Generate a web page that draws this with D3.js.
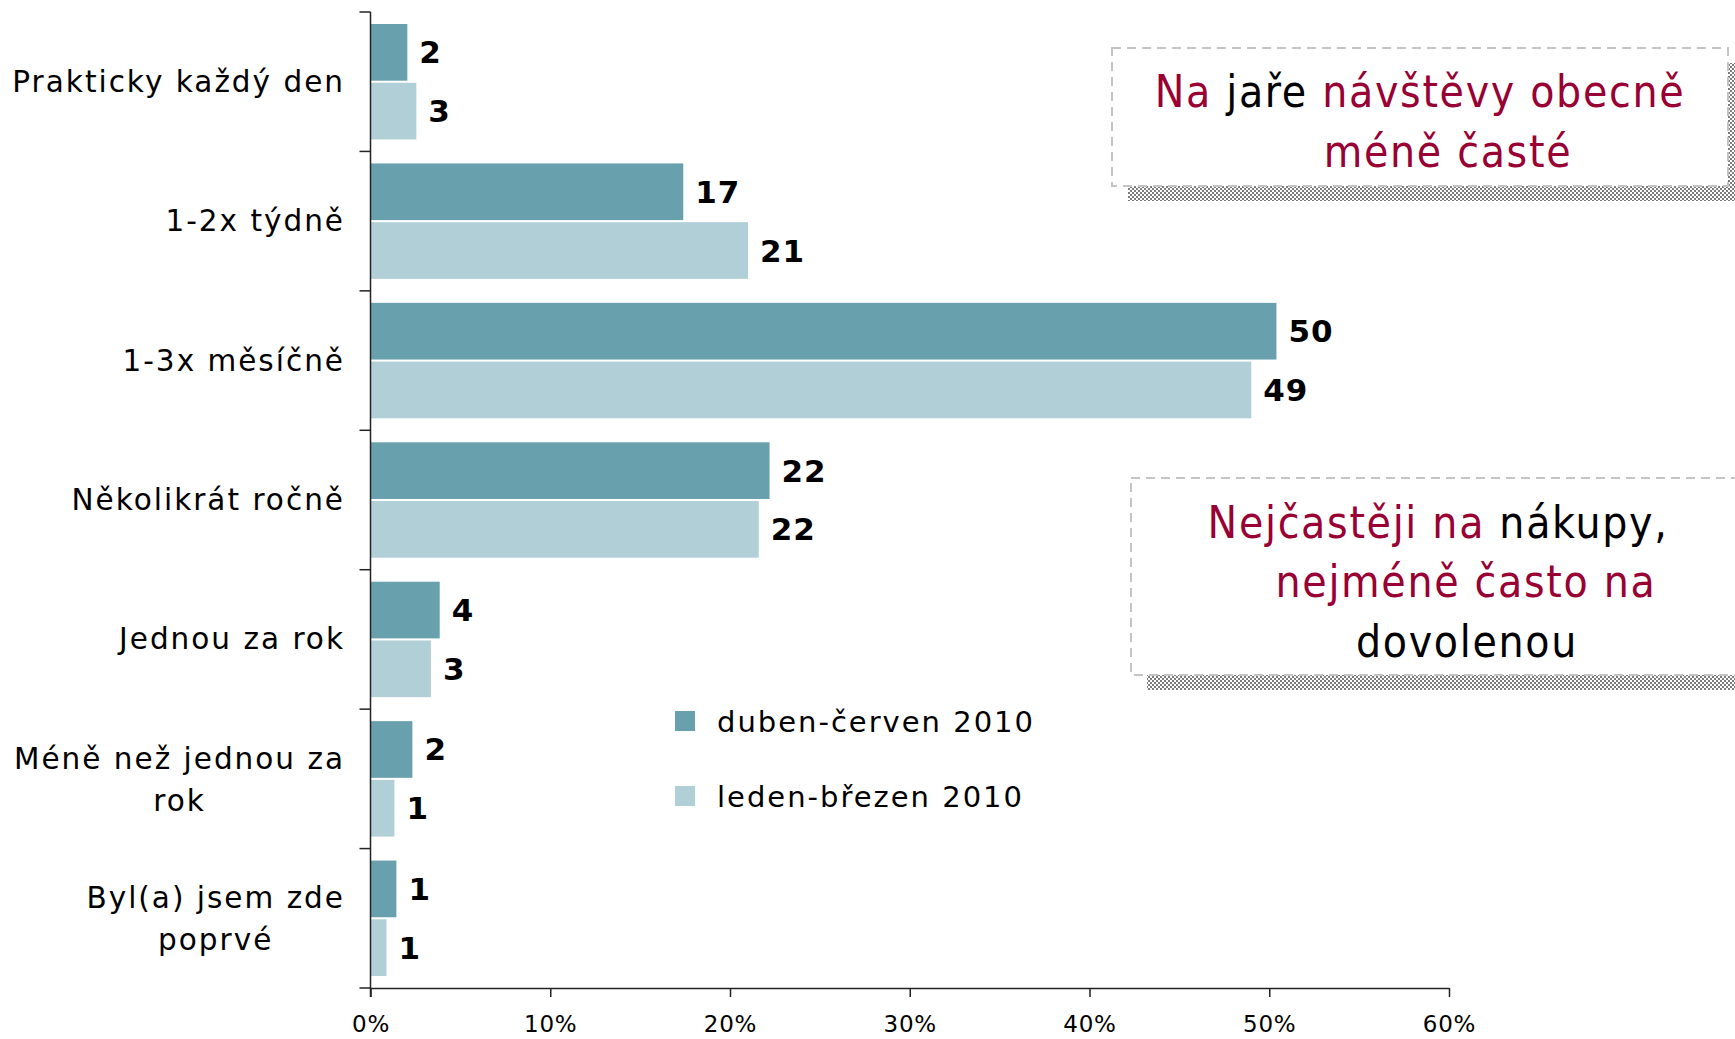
<!DOCTYPE html>
<html>
<head>
<meta charset="utf-8">
<script src="https://cdn.jsdelivr.net/npm/d3@7"></script>
<style>
  html, body { margin: 0; padding: 0; background: #fff; }
  svg { display: block; }
</style>
</head>
<body>
<div id="chart"></div>
<script>
// visit frequency, two survey periods (percent)
const categories = [
    ["Prakticky každý den"],
    ["1-2x týdně"],
    ["1-3x měsíčně"],
    ["Několikrát ročně"],
    ["Jednou za rok"],
    ["Méně než jednou za", "rok"],
    ["Byl(a) jsem zde", "poprvé"]
];
const seriesNames = ["duben-červen 2010", "leden-březen 2010"];
const aprJun = [2.05, 17.4, 50.4, 22.2, 3.85, 2.33, 1.44];
const janMar = [2.55, 21.0, 49.0, 21.6, 3.36, 1.33, 0.89];
const xTicks = [0, 10, 20, 30, 40, 50, 60];

// callout texts: [text, highlighted?]
const note1 = [
    [["Na ", true], ["jaře ", false], ["návštěvy obecně", true]],
    [["méně časté", true]]
];
const note2 = [
    [["Nejčastěji na ", true], ["nákupy,", false]],
    [["nejméně často na", true]],
    [["dovolenou", false]]
];

const W = 1735, H = 1039;
const colors = ["#68a0ae", "#b0cfd6"];
const red = "#990033";
const labelFont = "'DejaVu Sans', Verdana, sans-serif";
const noteFont = "'DejaVu Sans Condensed', 'DejaVu Sans', sans-serif";

const svg = d3.select("#chart").append("svg")
    .attr("width", W).attr("height", H)
    .attr("viewBox", `0 0 ${W} ${H}`);

const keys = categories.map(c => c.join(" "));
const rows = keys.map((k, i) => ({ key: k, lines: categories[i], values: [aprJun[i], janMar[i]] }));

const x = d3.scaleLinear().domain([0, 60]).range([370.5, 1449]);
const y = d3.scaleBand().domain(keys).range([12, 988]);
const ySub = d3.scaleBand().domain(seriesNames).range([12, y.bandwidth() - 12]).paddingInner(0.035);

// hatched shadow pattern
const pat = svg.append("defs").append("pattern")
    .attr("id", "checker").attr("width", 4).attr("height", 4)
    .attr("patternUnits", "userSpaceOnUse");
pat.append("rect").attr("width", 4).attr("height", 4).attr("fill", "#fff");
pat.append("rect").attr("width", 2).attr("height", 2).attr("fill", "#7c7c7c");
pat.append("rect").attr("x", 2).attr("y", 2).attr("width", 2).attr("height", 2).attr("fill", "#7c7c7c");

// bars
const groups = svg.selectAll(".grp").data(rows).enter().append("g")
    .attr("class", "grp")
    .attr("transform", d => `translate(0,${y(d.key)})`);

groups.selectAll("rect")
    .data(d => d.values.map((v, i) => ({ s: seriesNames[i], v, i })))
    .enter().append("rect")
    .attr("x", x(0))
    .attr("y", d => ySub(d.s))
    .attr("width", d => x(d.v) - x(0))
    .attr("height", ySub.bandwidth())
    .attr("fill", d => colors[d.i]);

groups.selectAll(".val")
    .data(d => d.values.map((v, i) => ({ s: seriesNames[i], v, i })))
    .enter().append("text")
    .attr("class", "val")
    .attr("x", d => x(d.v) + 12)
    .attr("y", d => ySub(d.s) + ySub.bandwidth() / 2 + 11)
    .attr("font-family", labelFont)
    .attr("font-weight", "bold")
    .attr("font-size", 31)
    .attr("letter-spacing", 1)
    .attr("fill", "#000")
    .text(d => d3.format(".0f")(d.v));

// category labels, multi-line ones centred on their own block
const labelRight = 345;
groups.each(function(d) {
    const g = d3.select(this);
    const mid = y.bandwidth() / 2;
    const t = g.append("text")
        .attr("font-family", labelFont)
        .attr("font-size", 29.5)
        .attr("letter-spacing", 2)
        .attr("fill", "#000");
    if (d.lines.length === 1) {
        t.attr("text-anchor", "end").attr("x", labelRight).attr("y", mid + 10).text(d.lines[0]);
    } else {
        t.text(d.lines[0]);
        const w = t.node().getComputedTextLength();
        const cx = labelRight - w / 2;
        t.text(null).attr("text-anchor", "middle");
        d.lines.forEach((ln, i) => {
            t.append("tspan").attr("x", cx).attr("y", mid - 10 + i * 42).text(ln);
        });
    }
});

// left axis: line plus ticks at band boundaries
const leftAxis = svg.append("g").attr("stroke", "#222").attr("stroke-width", 1.5);
leftAxis.append("line").attr("x1", x(0)).attr("x2", x(0)).attr("y1", y.range()[0]).attr("y2", y.range()[1] + 9);
leftAxis.selectAll(".tk")
    .data(keys.map(k => y(k)).concat([y.range()[1]]))
    .enter().append("line")
    .attr("x1", x(0) - 11).attr("x2", x(0))
    .attr("y1", d => d).attr("y2", d => d);

// bottom axis
svg.append("g")
    .attr("transform", `translate(0,${y.range()[1]})`)
    .call(d3.axisBottom(x).tickValues(xTicks).tickSize(9).tickSizeOuter(0).tickFormat(d => d + "%"))
    .call(g => g.select(".domain").attr("stroke", "#222").attr("stroke-width", 1.5))
    .call(g => g.selectAll(".tick line").attr("stroke", "#222").attr("stroke-width", 1.5))
    .call(g => g.selectAll(".tick text")
        .attr("y", 44).attr("dy", null)
        .attr("font-family", labelFont)
        .attr("font-size", 23)
        .attr("letter-spacing", 0.8)
        .attr("fill", "#000"));

// legend
const legend = svg.append("g").attr("transform", "translate(675,721)");
seriesNames.forEach((name, i) => {
    const item = legend.append("g").attr("transform", `translate(0,${i * 75})`);
    item.append("rect").attr("x", 0).attr("y", -10).attr("width", 20).attr("height", 20).attr("fill", colors[i]);
    item.append("text")
        .attr("x", 42).attr("y", 11)
        .attr("font-family", labelFont)
        .attr("font-size", 29)
        .attr("letter-spacing", 2)
        .attr("fill", "#000")
        .text(name);
});

// callout boxes
function callout(box, lines, centres, baselines) {
    const g = svg.append("g");
    g.append("rect")
        .attr("x", box.x + 16).attr("y", box.y + 15)
        .attr("width", box.w).attr("height", box.h)
        .attr("fill", "url(#checker)");
    g.append("rect")
        .attr("x", box.x).attr("y", box.y)
        .attr("width", box.w).attr("height", box.h)
        .attr("fill", "#fff")
        .attr("stroke", "#c4c4c4")
        .attr("stroke-width", 2)
        .attr("stroke-dasharray", "9,6");
    lines.forEach((segs, i) => {
        const t = g.append("text")
            .attr("x", centres[i]).attr("y", baselines[i])
            .attr("text-anchor", "middle")
            .attr("font-family", noteFont)
            .attr("font-size", 44)
            .attr("letter-spacing", 1.7);
        segs.forEach(([txt, hi]) => {
            t.append("tspan").attr("fill", hi ? red : "#000").text(txt);
        });
    });
}

callout({ x: 1112, y: 48, w: 616, h: 138 }, note1, [1420, 1448], [107, 167]);
callout({ x: 1131, y: 478, w: 620, h: 197 }, note2, [1438, 1466, 1467], [538, 597, 657]);
</script>
</body>
</html>
